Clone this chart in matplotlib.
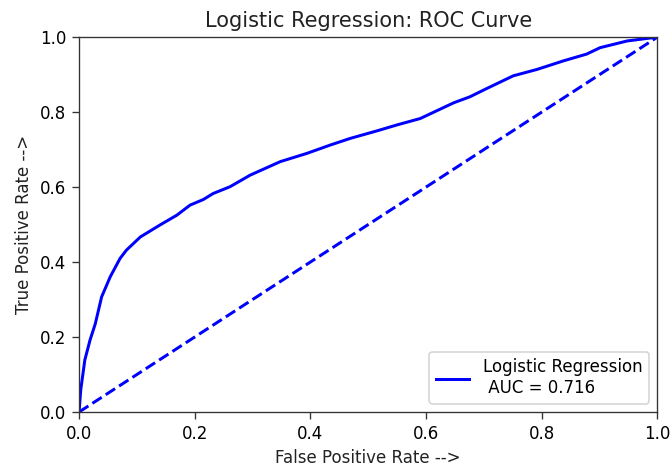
import numpy as np
import matplotlib
matplotlib.use("Agg")
import matplotlib.pyplot as plt

# ROC points for the logistic regression model
fpr = [0.0, 0.003, 0.010, 0.019, 0.028, 0.039, 0.054, 0.071, 0.082, 0.106,
       0.140, 0.169, 0.192, 0.215, 0.232, 0.261, 0.296, 0.348, 0.394, 0.434,
       0.469, 0.515, 0.550, 0.590, 0.648, 0.676, 0.705, 0.751, 0.792, 0.838,
       0.878, 0.901, 0.948, 0.994, 1.0]
tpr = [0.0, 0.06, 0.139, 0.192, 0.235, 0.307, 0.361, 0.410, 0.432, 0.467,
       0.499, 0.525, 0.552, 0.567, 0.583, 0.601, 0.632, 0.668, 0.690, 0.712,
       0.730, 0.750, 0.766, 0.783, 0.825, 0.841, 0.863, 0.897, 0.914, 0.937,
       0.955, 0.972, 0.990, 0.999, 1.0]
auc = 0.716
chance = [0.0, 1.0]

dpi = 120
fig = plt.figure(figsize=(670 / dpi, 465 / dpi), dpi=dpi)
ax = fig.add_axes([0.118, 0.114, 0.863, 0.806])

ax.plot(fpr, tpr, color="b", lw=1.8, label="Logistic Regression\n AUC = %.3f" % auc)
ax.plot(chance, chance, "b--", lw=1.8)
ax.set_xlim(0, 1)
ax.set_ylim(0, 1)
ax.set_xticks(np.arange(0, 1.01, 0.2))
ax.set_yticks(np.arange(0, 1.01, 0.2))
ax.tick_params(length=4.2, color="#333333")
for s in ax.spines.values():
    s.set_color("#333333")
ax.set_xlabel("False Positive Rate -->", color="#222222")
ax.set_ylabel("True Positive Rate -->", color="#222222")
ax.set_title("Logistic Regression: ROC Curve", fontsize=12.5, color="#222222")
ax.legend(loc="lower right")

fig.savefig("out.png", dpi=dpi)
